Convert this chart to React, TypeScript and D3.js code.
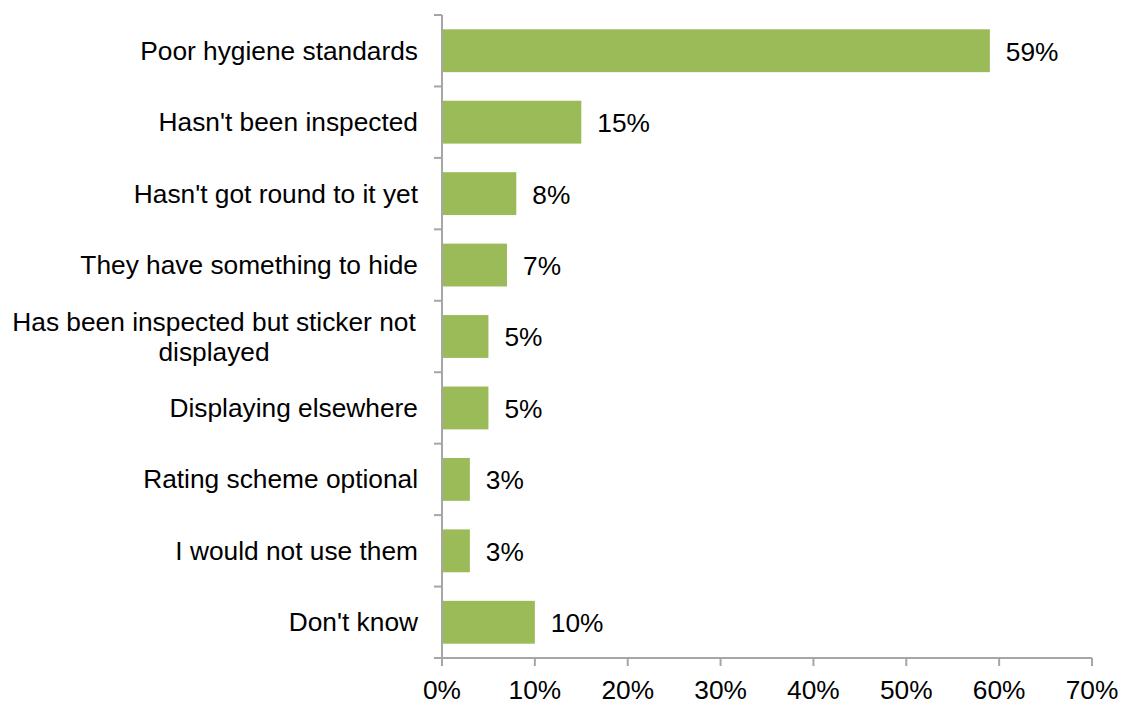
import React from "react";
import * as d3 from "d3";

const categories: string[][] = [
  ["Poor hygiene standards"],
  ["Hasn't been inspected"],
  ["Hasn't got round to it yet"],
  ["They have something to hide"],
  ["Has been inspected but sticker not", "displayed"],
  ["Displaying elsewhere"],
  ["Rating scheme optional"],
  ["I would not use them"],
  ["Don't know"],
];
const values: number[] = [0.59, 0.15, 0.08, 0.07, 0.05, 0.05, 0.03, 0.03, 0.1];
const xTicks: number[] = [0, 0.1, 0.2, 0.3, 0.4, 0.5, 0.6, 0.7];

const W = 1121;
const H = 702;
const left = 442;
const right = 1092;
const top = 15;
const bottom = 658;
const FONT = "'Liberation Sans', Arial, sans-serif";
const FS = 26.3;
const AXIS = "#A6A6A6";
const BAR = "#9BBB59";

export default function App() {
  const x = d3.scaleLinear().domain([0, 0.7]).range([left, right]);
  const idx = categories.map((_, i) => String(i));
  const y = d3.scaleBand().domain(idx).range([top, bottom]).paddingInner(0.4).paddingOuter(0.2);
  const step = y.step();
  const fmt = d3.format(".0%");
  const bounds = d3.range(categories.length + 1).map((i) => top + i * step);

  return (
    <svg width={W} height={H} style={{ position: "absolute", left: 0, top: 0, background: "#fff" }} fontFamily={FONT}>
      {values.map((v, i) => {
        const y0 = y(String(i))!;
        const cy = y0 + y.bandwidth() / 2;
        return (
          <g key={i}>
            <rect x={x(0)} y={y0} width={x(v) - x(0)} height={y.bandwidth()} fill={BAR} />
            <text x={x(v) + 16} y={cy + 3} fontSize={FS} dominantBaseline="middle" fill="#000">
              {fmt(v)}
            </text>
          </g>
        );
      })}
      {/* y axis */}
      <line x1={left} x2={left} y1={top} y2={bottom} stroke={AXIS} strokeWidth={2} />
      {bounds.map((b, i) => (
        <line key={i} x1={left - 8} x2={left} y1={b} y2={b} stroke={AXIS} strokeWidth={2} />
      ))}
      {/* x axis */}
      <line x1={left - 8} x2={right} y1={bottom} y2={bottom} stroke={AXIS} strokeWidth={2} />
      {xTicks.map((t, i) => (
        <g key={i}>
          <line x1={x(t)} x2={x(t)} y1={bottom} y2={bottom + 8} stroke={AXIS} strokeWidth={2} />
          <text x={x(t)} y={bottom + 34} fontSize={FS} textAnchor="middle" dominantBaseline="middle" fill="#000">
            {fmt(t)}
          </text>
        </g>
      ))}
      {categories.map((lines, i) => {
        const cy = y(String(i))! + y.bandwidth() / 2 + 2;
        const lh = 30;
        if (lines.length === 1) {
          return (
            <text key={i} x={418} y={cy} fontSize={FS} textAnchor="end" dominantBaseline="middle" fill="#000">
              {lines[0]}
            </text>
          );
        }
        return (
          <text key={i} fontSize={FS} textAnchor="middle" dominantBaseline="middle" fill="#000">
            {lines.map((l, j) => (
              <tspan key={j} x={214} y={cy - ((lines.length - 1) * lh) / 2 + j * lh}>
                {l}
              </tspan>
            ))}
          </text>
        );
      })}
    </svg>
  );
}
